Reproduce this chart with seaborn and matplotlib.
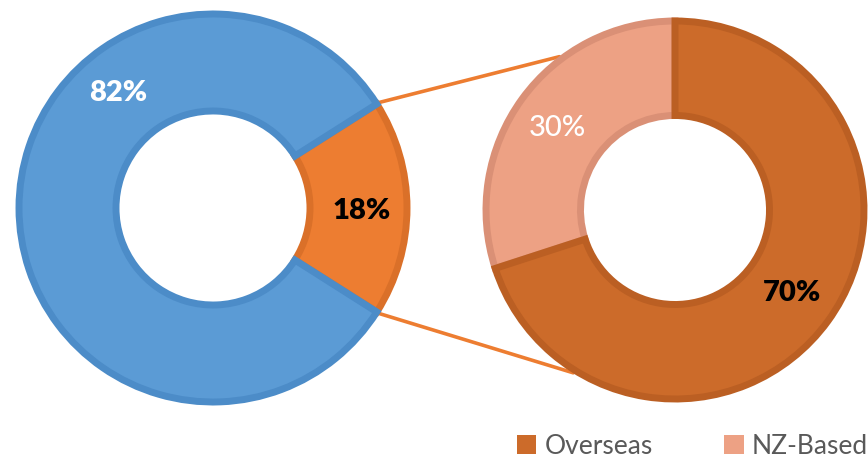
import numpy as np
import matplotlib
matplotlib.use("Agg")
import matplotlib.pyplot as plt
import seaborn as sns
from matplotlib.patches import Patch

# ---- data ----
main_labels = ["Other", "Split"]
main_values = [18, 82]            # orange 18%, blue 82%
main_texts = ["18%", "82%"]
sub_labels = ["NZ-Based", "Overseas"]
sub_values = [30, 70]
sub_texts = ["30%", "70%"]
legend_labels = ["Overseas", "NZ-Based"]

# ---- style ----
sns.set_theme(style="white")
plt.rcParams["font.family"] = ["Lato", "DejaVu Sans"]

main_colors = ["#ED7D31", "#5B9BD5"]
main_edges = ["#DA7029", "#4C8CC8"]
sub_colors = ["#EDA184", "#CC6B2A"]
sub_edges = ["#DA9076", "#BB5F23"]

W, H = 868, 462
fig = plt.figure(figsize=(W / 100, H / 100), dpi=100)
ax = fig.add_axes([0, 0, 1, 1])
ax.set_xlim(0, W)
ax.set_ylim(0, H)
ax.set_aspect("equal")
ax.axis("off")

def py(y):
    return H - y

c1 = (213, py(208)); r1 = 194
c2 = (675, py(210)); r2 = 189
width_frac = 0.5

start1 = -main_values[0] / 100 * 360 / 2
w1, _ = ax.pie(main_values, colors=main_colors, startangle=start1, counterclock=True,
               center=c1, radius=r1, frame=True,
               wedgeprops=dict(width=r1 * width_frac, linewidth=5))
for w, e in zip(w1, main_edges):
    w.set_edgecolor(e)

w2, _ = ax.pie(sub_values, colors=sub_colors, startangle=90, counterclock=True,
               center=c2, radius=r2, frame=True,
               wedgeprops=dict(width=r2 * width_frac, linewidth=5))
for w, e in zip(w2, sub_edges):
    w.set_edgecolor(e)

ax.set_xlim(0, W)
ax.set_ylim(0, H)
ax.axis("off")

# connector lines
R1 = r1 + 3
a_top = np.deg2rad(-start1)
a_bot = np.deg2rad(start1)
p_top = (c1[0] + R1 * np.cos(a_top), c1[1] + R1 * np.sin(a_top))
p_bot = (c1[0] + R1 * np.cos(a_bot), c1[1] + R1 * np.sin(a_bot))
R2 = r2 + 3
q_top = (c2[0] + R2 * np.cos(np.deg2rad(127)), c2[1] + R2 * np.sin(np.deg2rad(127)))
q_bot = (c2[0] + R2 * np.cos(np.deg2rad(238)), c2[1] + R2 * np.sin(np.deg2rad(238)))
ax.plot([p_top[0], q_top[0]], [p_top[1], q_top[1]], color="#ED7D31", lw=2.6, zorder=0)
ax.plot([p_bot[0], q_bot[0]], [p_bot[1], q_bot[1]], color="#ED7D31", lw=2.6, zorder=0)

# labels
fs = 21
ax.text(118, py(93), main_texts[1], color="white", fontsize=fs, fontweight="heavy",
        ha="center", va="center")
ax.text(362, py(211), main_texts[0], color="black", fontsize=fs, fontweight="heavy",
        ha="center", va="center")
ax.text(557, py(128), sub_texts[0], color="white", fontsize=fs, fontweight="medium",
        ha="center", va="center")
ax.text(792, py(293), sub_texts[1], color="black", fontsize=fs, fontweight="heavy",
        ha="center", va="center")

handles = [Patch(facecolor=sub_colors[1], edgecolor="none"),
           Patch(facecolor=sub_colors[0], edgecolor="none")]
leg = ax.legend(handles, legend_labels, loc="lower left", bbox_to_anchor=(506 / W, -0.016),
                ncol=2, frameon=False, fontsize=19, handlelength=0.75, handleheight=0.75,
                handletextpad=0.3, columnspacing=2.7, labelcolor="#595959",
                borderaxespad=0)

fig.savefig("out.png", dpi=100)
